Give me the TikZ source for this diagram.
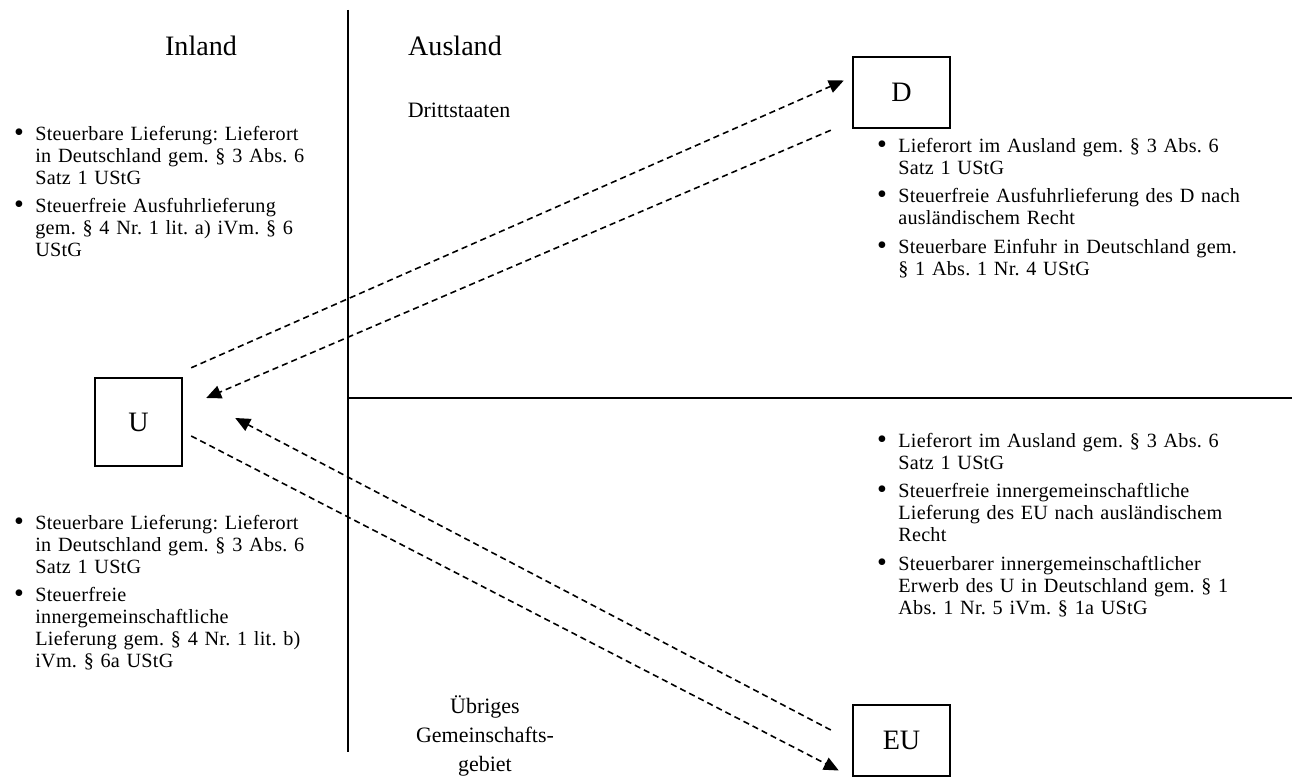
\documentclass[tikz,border=0pt]{standalone}
\usepackage{fontspec}
\setmainfont{Liberation Serif}
\newfontfamily\notefont[LetterSpace=1.2]{Liberation Serif}
\usetikzlibrary{arrows.meta,positioning}

% bullet line with hanging indent
\newcommand{\bitem}[1]{\par\noindent\hangindent=0.46cm\hangafter=1\makebox[0.46cm][l]{\hspace{1pt}\raisebox{-0.5pt}{\fontsize{16}{0}\selectfont\textbullet}}#1\par}
\newcommand{\gap}{\vspace{0.13cm}}

\begin{document}
\frenchspacing
\begin{tikzpicture}[x=0.02cm, y=-0.02cm,
  partner/.style={draw, line width=1.4pt, inner sep=0pt, font=\fontsize{16}{18}\selectfont},
  region/.style={font=\fontsize{16}{18}\selectfont},
  area/.style={font=\fontsize{12.5}{16.4}\selectfont, align=center},
  notes/.style={anchor=north west, inner sep=0pt, font=\notefont\fontsize{11.5}{12.5}\selectfont\frenchspacing},
  flow/.style={line width=0.9pt, dash pattern=on 3.5pt off 2.3pt, -{Triangle[length=8.5pt, width=7.5pt]}}]
  \useasboundingbox (0,0) rectangle (1292,777);

  % borders: Inland | Ausland, Drittstaaten / Gemeinschaftsgebiet
  \draw[line width=1.1pt] (348,10) -- (348,752);
  \draw[line width=1.1pt] (348,398) -- (1292,398);

  \node[region] (inland) at (201,46) {Inland};
  \node[region] (ausland) at (455,46) {Ausland};
  \node[area] (dritt) at (459,110) {Drittstaaten};
  \node[area] (gemein) at (485,736) {Übriges\\Gemeinschafts-\\gebiet};

  % the three parties
  \node[partner, minimum width=1.74cm, minimum height=1.76cm] (U) at (138.5,422) {U};
  \node[partner, minimum width=1.94cm, minimum height=1.42cm] (D) at (901.5,92.5) {D};
  \node[partner, minimum width=1.94cm, minimum height=1.42cm] (EU) at (901.5,740.5) {EU};

  % deliveries
  \draw[flow] ([shift={(8,-9)}]U.north east) -- ([shift={(-8,-12)}]D.west);
  \draw[flow] ([shift={(-21,1)}]D.south west) -- ([shift={(23,-24)}]U.east);
  \draw[flow] ([shift={(8,14)}]U.east) -- ([shift={(-13,30)}]EU.west);
  \draw[flow] ([shift={(-21,-10.5)}]EU.west) -- ([shift={(52,-4)}]U.east);

  % notes
  \node[notes, text width=6.2cm] (noteUD) at (12,118) {%
    \bitem{Steuerbare Lieferung: Lieferort\newline in Deutschland gem. § 3 Abs. 6\newline Satz 1 UStG}\gap
    \bitem{Steuerfreie Ausfuhrlieferung\newline gem. § 4 Nr. 1 lit. a) iVm. § 6\newline UStG}};
  \node[notes, text width=6.2cm] (noteUEU) at (12,507) {%
    \bitem{Steuerbare Lieferung: Lieferort\newline in Deutschland gem. § 3 Abs. 6\newline Satz 1 UStG}\gap
    \bitem{Steuerfreie\newline innergemeinschaftliche\newline Lieferung gem. § 4 Nr. 1 lit. b)\newline iVm. § 6a UStG}};
  \node[notes, text width=8.2cm] (noteD) at (875,130) {%
    \bitem{Lieferort im Ausland gem. § 3 Abs. 6\newline Satz 1 UStG}\gap
    \bitem{Steuerfreie Ausfuhrlieferung des D nach\newline ausländischem Recht}\gap
    \bitem{Steuerbare Einfuhr in Deutschland gem.\newline § 1 Abs. 1 Nr. 4 UStG}};
  \node[notes, text width=8.2cm] (noteEU) at (875,425) {%
    \bitem{Lieferort im Ausland gem. § 3 Abs. 6\newline Satz 1 UStG}\gap
    \bitem{Steuerfreie innergemeinschaftliche\newline Lieferung des EU nach ausländischem\newline Recht}\gap
    \bitem{Steuerbarer innergemeinschaftlicher\newline Erwerb des U in Deutschland gem. § 1\newline Abs. 1 Nr. 5 iVm. § 1a UStG}};
\end{tikzpicture}
\end{document}
